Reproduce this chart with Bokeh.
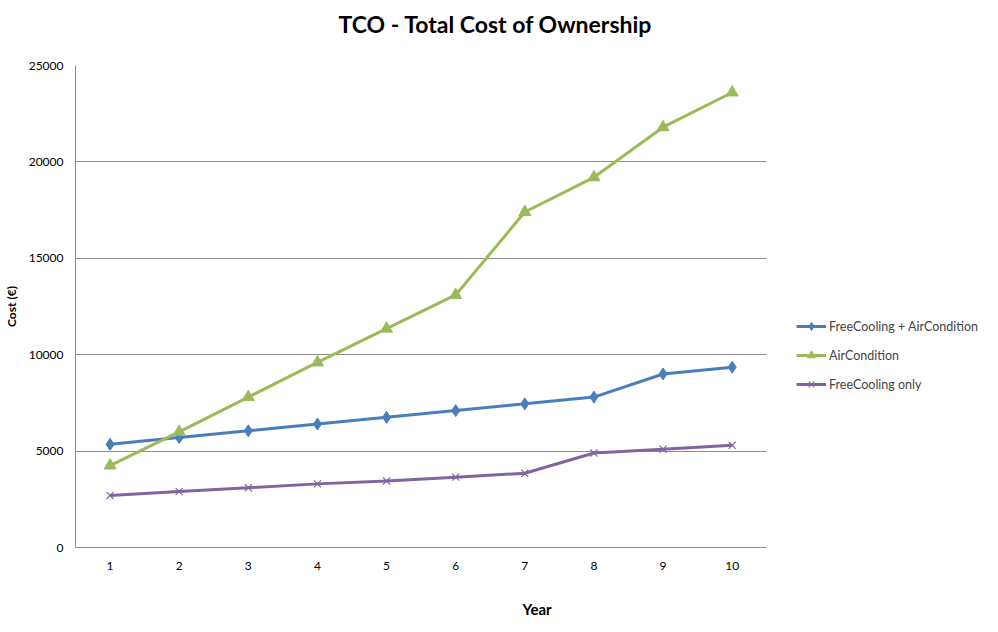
from bokeh.plotting import figure
from bokeh.models import (FixedTicker, Legend, LegendItem, Title, Range1d)
from bokeh.embed import file_html
from bokeh.resources import INLINE

years = [1, 2, 3, 4, 5, 6, 7, 8, 9, 10]
free_air = [5350, 5700, 6050, 6400, 6750, 7100, 7450, 7800, 9000, 9350]
air_cond = [4250, 6000, 7800, 9600, 11350, 13100, 17400, 19200, 21800, 23600]
free_only = [2700, 2900, 3100, 3300, 3450, 3650, 3850, 4900, 5100, 5300]
y_ticks = [0, 5000, 10000, 15000, 20000, 25000]

names = ["FreeCooling + AirCondition", "AirCondition", "FreeCooling only"]
colors = ["#4A7EBB", "#9BBB59", "#8064A2"]

FONT = "Lato"

W, H = 998, 632
LEFT, TOP, PLOT_W, PLOT_H = 74, 65, 692, 482
frame_w = W - LEFT
x_end = 0.5 + 10 * frame_w / PLOT_W

p = figure(width=W, height=H, output_backend="svg", toolbar_location=None,
           x_range=Range1d(0.5, x_end), y_range=Range1d(0, 25000),
           min_border_left=LEFT, min_border_right=0, min_border_top=TOP,
           min_border_bottom=H - TOP - PLOT_H)
p.title = None
p.outline_line_color = None
p.background_fill_color = "white"

spacer = Title(text=" ", text_font_size="1px", standoff=15)
p.add_layout(spacer, "above")
t = Title(text="TCO - Total Cost of Ownership", align="left", vertical_align="top",
          text_font=FONT, text_font_size="23px", text_font_style="bold",
          text_color="black", offset=263, standoff=16)
p.add_layout(t, "above")

p.xgrid.grid_line_color = None
p.ygrid.grid_line_color = "#8C8C8C"
p.ygrid.grid_line_width = 1
p.ygrid.cross_bounds = (0.5, 10.5)

p.xaxis.ticker = FixedTicker(ticks=years)
p.yaxis.ticker = FixedTicker(ticks=y_ticks)
for ax in (p.xaxis, p.yaxis):
    ax.axis_line_color = "#8C8C8C"
    ax.major_tick_line_color = None
    ax.minor_tick_line_color = None
    ax.major_tick_out = 0
    ax.major_tick_in = 0
    ax.major_label_text_font = FONT
    ax.major_label_text_font_size = "12px"
    ax.major_label_text_color = "black"
    ax.axis_label_text_font = FONT
    ax.axis_label_text_font_style = "bold"
    ax.axis_label_text_color = "black"
p.xaxis.bounds = (0.5, 10.5)
p.xaxis.axis_label = "Year"
p.xaxis.axis_label_text_font_size = "15px"
p.xaxis.major_label_standoff = 14
p.xaxis.axis_label_standoff = 27
p.yaxis.axis_label = "Cost (€)"
p.yaxis.axis_label_text_font_size = "12px"
p.yaxis.major_label_standoff = 12
p.yaxis.axis_label_standoff = 7

items = []
series = [free_air, air_cond, free_only]
markers = ["diamond", "triangle", "x"]
sizes = [12, 12, 10]
for name, col, ys, mk, sz in zip(names, colors, series, markers, sizes):
    ln = p.line(years, ys, line_color=col, line_width=3)
    if mk == "x":
        sc = p.scatter(years, ys, marker=mk, size=sz, line_color=col, line_width=1.2)
    else:
        sc = p.scatter(years, ys, marker=mk, size=sz, fill_color=col, line_color=col)
    items.append(LegendItem(label=name, renderers=[ln, sc]))

legend = Legend(items=items, location=(721, 153), glyph_width=30, glyph_height=20,
                label_text_font=FONT, label_text_font_size="12.5px",
                label_standoff=3, spacing=9, padding=0, margin=0,
                border_line_color=None, background_fill_alpha=0)
p.add_layout(legend, "center")

open("out.html", "w").write(file_html(p, INLINE))
